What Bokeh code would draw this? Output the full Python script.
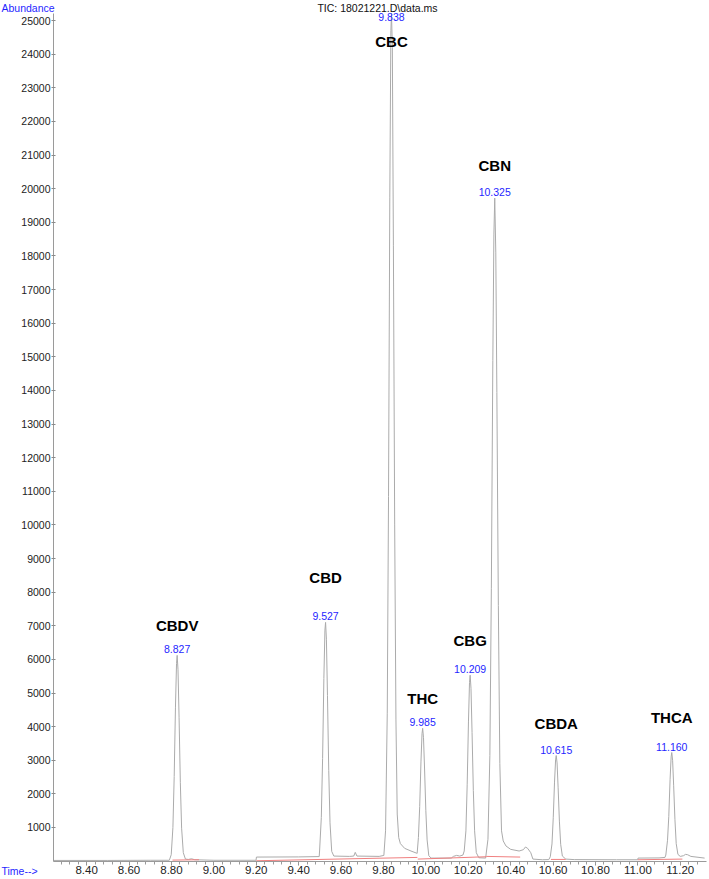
from bokeh.plotting import figure
from bokeh.models import Range1d, FixedTicker, Label, ColumnDataSource, NumeralTickFormatter
from bokeh.core.properties import value
from bokeh.embed import file_html
from bokeh.resources import INLINE

# ---------------- data ----------------
title_text = "TIC: 18021221.D\\data.ms"

peak_names = ["CBDV", "CBD", "CBC", "THC", "CBG", "CBN", "CBDA", "THCA"]
peak_times = [8.827, 9.527, 9.838, 9.985, 10.209, 10.325, 10.615, 11.160]
peak_rt_labels = ["8.827", "9.527", "9.838", "9.985", "10.209", "10.325", "10.615", "11.160"]
peak_heights = [6120, 7100, 25210, 3950, 5530, 19720, 3140, 3230]   # CBC runs off the top

trace_time = [
    8.244, 8.50, 8.70, 8.79,
    8.799, 8.807, 8.813, 8.819, 8.824, 8.827, 8.831, 8.836, 8.842, 8.848, 8.856,
    8.866, 8.88, 8.895, 8.91, 9.00, 9.199, 9.201, 9.40, 9.497,
    9.499, 9.507, 9.513, 9.519, 9.524, 9.527, 9.531, 9.536, 9.542, 9.548, 9.556,
    9.566, 9.64, 9.66, 9.667, 9.675, 9.78, 9.802,
    9.810, 9.818, 9.824, 9.830, 9.835, 9.838, 9.842, 9.847, 9.853, 9.859, 9.865,
    9.872, 9.88, 9.90, 9.93, 9.955,
    9.959, 9.965, 9.971, 9.977, 9.982, 9.985, 9.989, 9.994, 10.000, 10.006, 10.014,
    10.025, 10.12, 10.13, 10.145, 10.16, 10.175,
    10.181, 10.189, 10.195, 10.201, 10.206, 10.209, 10.213, 10.218, 10.224, 10.230, 10.238,
    10.25, 10.282,
    10.293, 10.302, 10.309, 10.316, 10.321, 10.325, 10.330, 10.335, 10.342, 10.349, 10.357,
    10.365, 10.378, 10.40, 10.44, 10.46, 10.47, 10.48, 10.495, 10.505, 10.55, 10.58,
    10.587, 10.595, 10.601, 10.607, 10.612, 10.615, 10.619, 10.624, 10.630, 10.636, 10.644,
    10.66, 10.70, 10.90, 10.999, 11.001, 11.10, 11.128,
    11.132, 11.140, 11.146, 11.152, 11.157, 11.160, 11.164, 11.169, 11.175, 11.181, 11.189,
    11.20, 11.215, 11.225, 11.235, 11.25, 11.315,
]
trace_abund = [
    20, 20, 25, 25,
    190, 1000, 2515, 4580, 5875, 6120, 5690, 4280, 2330, 980, 250,
    60, 50, 70, 40, 25, 25, 120, 125, 135,
    330, 1300, 3050, 5430, 6870, 7100, 6600, 4920, 2700, 1140, 290,
    150, 140, 150, 260, 150, 140, 170,
    900, 4400, 10850, 19750, 24700, 25210, 24200, 18300, 10000, 4200, 1400,
    700, 520, 380, 300, 240,
    230, 700, 1620, 2950, 3790, 3950, 3670, 2740, 1500, 630, 160,
    90, 90, 140, 170, 150, 180,
    300, 900, 2270, 4140, 5310, 5530, 5140, 3830, 2100, 900, 250,
    100, 90,
    650, 3140, 8100, 14890, 18650, 19720, 18090, 13940, 7600, 2900, 900,
    600, 450, 350, 300, 340, 420, 380, 250, 60, 40, 45,
    130, 510, 1290, 2350, 3010, 3140, 2920, 2180, 1190, 500, 150,
    60, 45, 40, 40, 90, 95, 110,
    180, 620, 1330, 2420, 3100, 3230, 3000, 2240, 1230, 520, 200,
    140, 160, 200, 190, 140, 90,
]

# integration baselines (red)
base_x0 = [8.805, 9.200, 9.962, 10.285, 10.590, 11.000]
base_y0 = [30, 10, 60, 140, 50, 40]
base_x1 = [8.930, 9.960, 10.285, 10.445, 10.660, 11.210]
base_y1 = [40, 110, 130, 120, 50, 60]

x_ticks = [8.40, 8.60, 8.80, 9.00, 9.20, 9.40, 9.60, 9.80, 10.00, 10.20, 10.40, 10.60, 10.80, 11.00, 11.20]
y_ticks = [1000, 2000, 3000, 4000, 5000, 6000, 7000, 8000, 9000, 10000, 11000, 12000, 13000,
           14000, 15000, 16000, 17000, 18000, 19000, 20000, 21000, 22000, 23000, 24000, 25000]

# ---------------- layout / styles ----------------
FONT = "Liberation Sans"
BLUE = "#1f1fff"
# the frame fills the whole canvas; the axes are pinned inside it
view_x = (7.9937, 11.338)
view_y = (-547, 25598)
axis_x0, axis_x1 = 8.2437, 11.322     # extent of the time axis
axis_y0, axis_y1 = 0, 25210           # extent of the abundance axis

rt_dy = [-6, -6, 3, -6, -6, -6, -6, -6]
name_dy = [-30, -45, 28, -30, -35, -33, -32, -35]

p = figure(width=709, height=879, output_backend="svg", toolbar_location=None,
           x_range=Range1d(*view_x), y_range=Range1d(*view_y),
           min_border_left=0, min_border_right=0, min_border_top=0, min_border_bottom=0)
p.outline_line_color = None
p.grid.visible = False
p.background_fill_color = "white"
p.border_fill_color = "white"

# axes
xa = p.xaxis[0]
xa.fixed_location = axis_y0
xa.bounds = (axis_x0, axis_x1)
xa.ticker = FixedTicker(ticks=x_ticks,
                        minor_ticks=[round(8.28 + 0.04 * i, 2) for i in range(76)])
xa.formatter = NumeralTickFormatter(format="0.00")
xa.axis_line_color = "#9a9a9a"
xa.major_tick_line_color = "#8a8a8a"
xa.minor_tick_line_color = "#9a9a9a"
xa.major_tick_out = 4
xa.major_tick_in = 0
xa.minor_tick_out = 3
xa.minor_tick_in = 0
xa.major_label_standoff = 1
xa.major_label_text_font = FONT
xa.major_label_text_font_size = "11.5px"
xa.major_label_text_color = "#222222"

ya = p.yaxis[0]
ya.fixed_location = axis_x0
ya.bounds = (axis_y0, axis_y1)
ya.ticker = FixedTicker(ticks=y_ticks)
ya.formatter = NumeralTickFormatter(format="0")
ya.axis_line_color = "#9a9a9a"
ya.major_tick_line_color = "#8a8a8a"
ya.major_tick_out = 2
ya.major_tick_in = 2
ya.minor_tick_line_color = None
ya.major_label_standoff = 1
ya.major_label_text_font = FONT
ya.major_label_text_font_size = "10.5px"
ya.major_label_text_color = "#222222"

# trace and baselines
p.line(trace_time, trace_abund, line_color="#ababab", line_width=1)
p.segment(x0=base_x0, y0=base_y0, x1=base_x1, y1=base_y1, line_color="#f08080", line_width=1)

# peak labels
src = ColumnDataSource(dict(x=peak_times, y=peak_heights, rt=peak_rt_labels, name=peak_names,
                            rt_dy=rt_dy, name_dy=name_dy))
p.text(x="x", y="y", text="rt", source=src, y_offset="rt_dy",
       text_align="center", text_baseline="middle", text_color=BLUE,
       text_font=value(FONT), text_font_size="10.5px")
p.text(x="x", y="y", text="name", source=src, y_offset="name_dy",
       text_align="center", text_baseline="middle", text_color="black",
       text_font=value(FONT), text_font_size="15px", text_font_style="bold")

# title and axis captions
p.add_layout(Label(x=9.772, y=axis_y1, y_offset=6, text=title_text, text_align="center",
                   text_baseline="middle", text_font=FONT, text_font_size="10.5px",
                   text_color="#111111"))
p.add_layout(Label(x=axis_x0, x_offset=-52, y=axis_y1, y_offset=6, text="Abundance",
                   text_align="left", text_baseline="middle", text_font=FONT,
                   text_font_size="10.5px", text_color=BLUE))
p.add_layout(Label(x=axis_x0, x_offset=-52, y=axis_y0, y_offset=-10, text="Time-->",
                   text_align="left", text_baseline="middle", text_font=FONT,
                   text_font_size="10.5px", text_color=BLUE))

open("out.html", "w").write(file_html(p, INLINE))
